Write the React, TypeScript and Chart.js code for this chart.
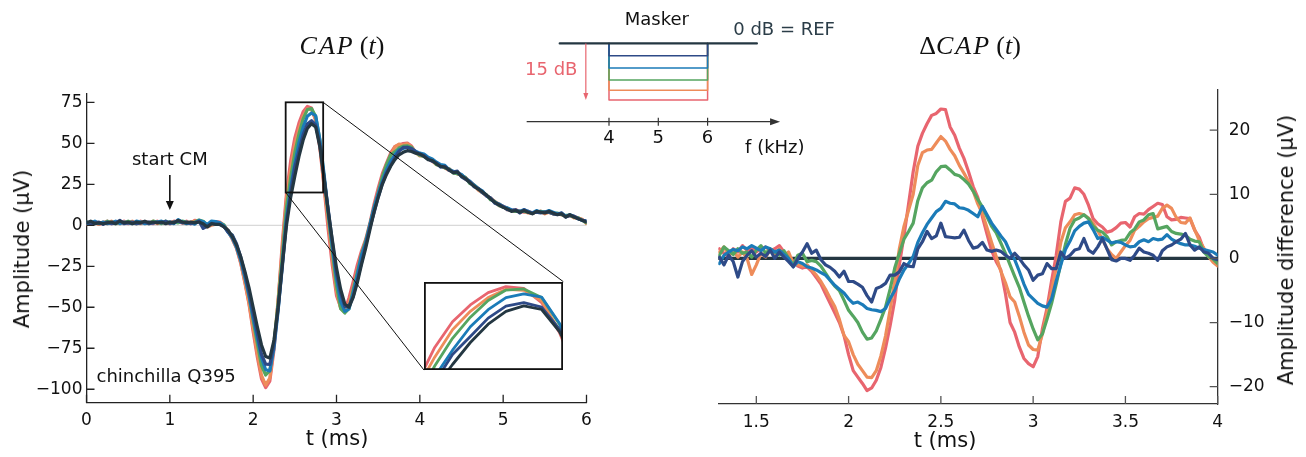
import React, { useEffect, useRef } from 'react';
import { Chart, registerables } from 'chart.js';
Chart.register(...registerables);

// ---------------- colours ----------------
const PINK = '#e8656f';
const ORANGE = '#ee8c5a';
const GREEN = '#55a560';
const BLUE = '#1b7bb8';
const NAVY = '#2e4a87';
const SLATE = '#243742';
const FONT = '"DejaVu Sans", sans-serif';

// ---------------- CAP(t), sampled every 0.05 ms from 0 to 6 ms ----------------
const CAP_STEP_MS = 0.05;
const CAP_REF = [
  1.5, 2.5, 1.0, 1.5, 1.0, 1.5, 2.0, 1.0, 2.5, 1.5, 2.0, 1.0, 2.0, 1.5, 2.5, 1.5, 2.0, 1.5, 2.0, 1.0, 2.0, 1.5, 3.0, 2.0, 1.5, 2.0,
  1.5, 2.0, 1.0, -1.0, 1.0, 0.5, 0.5, -1.0, -3.0, -7.0,
  -12.0, -19.0, -28.0, -38.0, -50.0, -62.0, -73.0, -80.0, -81.0, -70.0,
  -50.0, -24.0, 0.0, 17.0, 30.0, 42.0, 52.0, 59.0, 62.0, 60.0,
  48.0, 29.0, 9.0, -9.0, -26.0, -39.0, -48.0, -50.0, -44.0, -35.0,
  -24.0, -14.0, -3.0, 8.0, 17.0, 25.0, 31.0, 36.0, 40.0, 43.0,
  44.5, 45.5, 45.0, 44.0, 43.5,
  42.0, 40.0, 39.5, 37.5, 36.0, 35.5, 34.0, 32.0, 32.5, 30.0, 28.5, 26.0, 24.0, 22.0, 20.5, 18.5, 16.0, 14.0, 12.5, 11.0,
  10.0, 8.5, 9.0, 8.0, 9.0, 8.0, 7.0, 8.5, 8.0, 7.5, 8.5, 7.5, 6.5, 7.0, 5.0, 6.5, 5.0, 4.0, 3.0, 2.0,
];
const CAP_PINK = [
  0.5, 1.5, 2.0, 0.5, 1.5, 2.5, 1.0, 2.0, 1.5, 2.5, 1.0, 2.0, 1.0, 2.5, 1.5, 2.0, 1.0, 2.5, 1.5, 2.0, 1.5, 2.5, 2.0, 1.5, 2.5, 1.0,
  3.0, 2.2, 2.0, 0.2, 2.0, 2.3, 2.0, 0.0, -3.5, -8.5,
  -14.0, -23.0, -35.0, -48.0, -65.0, -80.5, -93.6, -99.0, -95.0, -76.0,
  -46.0, -10.5, 19.5, 39.3, 53.3, 62.5, 69.2, 72.5, 71.5, 63.8,
  47.5, 23.5, -2.5, -24.6, -42.9, -50.0, -51.5, -44.3, -34.6, -24.2,
  -15.7, -8.6, 1.1, 12.8, 22.6, 31.5, 37.9, 44.1, 48.0, 49.0,
  49.8, 50.2, 48.3, 44.5, 42.7,
  43.0, 40.5, 39.0, 38.0, 36.5, 35.0, 34.5, 32.5, 31.5, 30.5, 29.0, 26.5, 24.5, 22.5, 20.0, 18.0, 16.5, 14.5, 12.0, 11.5,
  10.5, 9.0, 9.5, 8.5, 8.0, 8.5, 7.5, 8.0, 8.5, 8.0, 8.0, 7.0, 7.0, 6.5, 5.5, 6.0, 5.5, 4.5, 3.5, 1.5,
];
const CAP_ORANGE = [
  1.0, 2.0, 1.5, 0.5, 2.0, 1.0, 2.5, 1.5, 1.0, 2.0, 1.5, 2.5, 1.5, 1.0, 2.0, 1.5, 2.5, 1.0, 2.0, 1.5, 1.0, 2.0, 2.5, 1.5, 1.0, 2.0,
  2.5, 2.5, 1.2, -1.0, 0.0, 0.7, 1.0, -0.7, -3.8, -8.2,
  -13.8, -22.6, -34.2, -47.5, -63.0, -78.5, -91.5, -97.5, -93.1, -73.5,
  -45.0, -14.0, 16.5, 34.0, 49.0, 59.0, 66.5, 71.0, 70.5, 64.8,
  48.3, 25.2, 2.2, -20.5, -40.2, -50.8, -53.0, -47.5, -38.3, -28.0,
  -17.7, -9.7, -1.5, 8.0, 19.0, 29.4, 36.7, 42.4, 47.8, 49.5,
  49.0, 49.8, 47.8, 44.3, 42.3,
  42.5, 41.0, 39.0, 37.0, 36.5, 35.0, 33.5, 32.5, 31.5, 30.5, 28.0, 26.5, 24.5, 21.5, 20.0, 18.0, 16.5, 14.5, 13.0, 11.5,
  9.5, 9.0, 8.5, 8.5, 8.5, 7.5, 7.5, 8.0, 8.5, 7.0, 8.0, 7.0, 7.0, 6.5, 5.5, 6.0, 4.5, 4.5, 3.5, 1.0,
];
const CAP_GREEN = [
  2.0, 1.0, 2.0, 1.5, 1.0, 2.5, 1.5, 1.0, 2.0, 1.5, 2.5, 1.5, 1.0, 2.0, 1.5, 1.0, 2.5, 2.0, 1.0, 2.5, 1.5, 2.0, 1.5, 2.5, 2.0, 1.5,
  2.0, 3.2, 2.5, 0.0, 2.3, 1.3, 1.5, 0.2, -4.0, -6.2,
  -12.3, -20.2, -31.4, -43.0, -58.1, -72.0, -85.6, -91.3, -88.6, -71.5,
  -47.0, -18.5, 11.0, 29.2, 44.3, 55.8, 64.9, 70.6, 71.2, 66.5,
  52.0, 29.8, 6.2, -15.8, -37.0, -50.8, -53.5, -50.8, -39.3, -28.7,
  -17.8, -9.6, 0.4, 10.6, 19.9, 29.6, 37.0, 43.0, 44.8, 47.2,
  48.3, 48.5, 47.6, 44.3, 42.7,
  42.0, 40.5, 40.0, 37.0, 36.5, 35.0, 34.5, 32.0, 31.5, 30.5, 29.0, 25.5, 24.5, 22.5, 20.0, 18.5, 15.5, 14.5, 12.0, 11.0,
  10.5, 9.0, 8.5, 8.5, 8.5, 8.0, 7.5, 8.0, 8.5, 8.0, 8.0, 7.0, 7.5, 6.5, 6.0, 6.0, 5.0, 4.5, 3.0, 1.5,
];
const CAP_BLUE = [
  1.0, 1.5, 2.5, 1.0, 2.0, 1.0, 1.5, 2.5, 1.0, 2.0, 1.5, 1.0, 2.5, 2.0, 1.0, 2.0, 1.5, 2.0, 2.5, 1.5, 2.0, 1.0, 3.5, 2.0, 1.0, 1.5,
  0.7, 3.0, 2.2, 0.5, 2.6, 2.3, 1.5, -0.4, -4.3, -7.8,
  -13.5, -21.2, -31.4, -42.8, -56.3, -68.8, -80.8, -88.1, -88.8, -75.0,
  -51.8, -23.7, 4.0, 23.3, 37.8, 50.6, 59.9, 66.5, 68.5, 66.8,
  52.5, 31.6, 8.8, -13.0, -32.3, -46.4, -52.5, -51.0, -41.3, -30.0,
  -18.3, -10.9, -0.1, 10.6, 19.1, 26.9, 33.9, 39.1, 43.0, 46.0,
  46.8, 47.6, 46.6, 45.2, 44.0,
  43.5, 41.5, 40.5, 38.5, 37.0, 36.5, 34.0, 33.0, 32.0, 31.0, 28.5, 27.0, 24.5, 22.5, 21.0, 18.0, 16.5, 14.0, 13.0, 11.5,
  10.5, 9.5, 9.0, 8.5, 9.5, 8.5, 7.5, 9.0, 8.0, 8.0, 9.0, 8.0, 7.0, 7.5, 5.5, 6.5, 5.5, 4.0, 3.0, 2.5,
];
const CAP_NAVY = [
  2.0, 1.0, 1.5, 2.0, 0.5, 2.0, 1.0, 1.5, 3.0, 1.0, 1.5, 2.0, 1.0, 1.5, 2.0, 1.0, 1.5, 2.0, 1.5, 2.5, 1.0, 2.0, 2.5, 1.5, 2.0, 1.0,
  1.7, 2.5, -1.9, -0.5, 1.2, 0.8, 0.5, -0.8, -4.3, -6.0,
  -11.2, -19.2, -29.4, -40.9, -53.6, -66.0, -78.8, -84.7, -84.9, -72.6,
  -50.8, -25.3, 2.6, 20.1, 35.5, 45.3, 55.3, 61.8, 63.8, 61.3,
  49.3, 29.5, 9.8, -10.0, -29.4, -41.4, -49.6, -49.0, -43.5, -33.5,
  -22.7, -12.2, -1.5, 7.6, 17.0, 25.5, 32.0, 36.5, 41.2, 45.1,
  47.5, 47.6, 46.8, 44.8, 43.3,
  42.5, 40.5, 39.0, 38.0, 35.5, 36.0, 33.5, 32.5, 33.0, 29.5, 28.0, 26.5, 23.5, 22.5, 20.0, 18.0, 16.5, 13.5, 12.5, 11.5,
  9.5, 9.0, 9.5, 7.5, 9.5, 8.0, 7.5, 8.0, 7.5, 8.0, 8.0, 7.0, 6.5, 7.5, 5.0, 6.0, 5.5, 4.0, 3.0, 2.5,
];
const CAP_X_TICKS = [0, 1, 2, 3, 4, 5, 6];
const CAP_Y_TICKS = [-100, -75, -50, -25, 0, 25, 50, 75];

// ---------------- ΔCAP(t), sampled every 0.025 ms from 1.3 to 4 ms ----------------
const DCAP_START_MS = 1.3;
const DCAP_STEP_MS = 0.025;
const DCAP_PINK = [
  1.5, 0.8, 0.2, 1.5, 1.0, 2.0, 1.2, 1.6, 1.0, 1.5,
  1.8, 1.2, 1.5, 2.0, 1.0, 0.5, -0.5, -1.2, -1.5, -1.3,
  -2.0, -3.0, -4.0, -5.5, -7.0, -8.5, -10.0, -12.0, -15.0, -17.5,
  -18.5, -19.5, -20.6, -20.2, -19.0, -17.0, -14.0, -10.5, -6.5, -1.0,
  3.5, 8.5, 13.5, 17.5, 19.5, 21.0, 22.3, 22.6, 23.3, 23.2,
  20.5, 19.2, 17.2, 15.6, 13.5, 11.2, 9.5, 6.5, 3.8, 1.2,
  -0.5, -1.8, -5.5, -10.0, -11.5, -13.8, -15.6, -16.4, -16.9, -15.3,
  -11.0, -7.8, -3.5, 0.5, 5.7, 8.9, 9.4, 11.0, 10.8, 10.0,
  8.3, 6.2, 5.4, 4.9, 4.1, 4.3, 4.8, 5.5, 5.6, 4.9,
  6.5, 7.0, 6.9, 7.6, 8.1, 8.6, 8.4, 6.5, 6.0, 6.1,
  6.4, 6.3, 6.2, 4.4, 3.3, 1.3, 0.5, -0.2, -0.8,
];
const DCAP_ORANGE = [
  1.0, 1.8, 0.5, 1.2, 0.2, 1.0, 0.0, -2.5, -1.0, 0.8,
  0.2, 1.3, 0.5, 1.5, 0.3, 1.0, -0.8, -1.0, -1.2, -1.0,
  -1.8, -2.6, -3.6, -4.8, -6.2, -7.5, -9.5, -12.0, -13.0, -15.0,
  -16.5, -17.5, -18.5, -18.6, -17.5, -15.2, -12.1, -8.0, -3.5, 1.5,
  5.0, 7.5, 10.0, 14.5, 16.5, 16.9, 17.0, 18.0, 19.0, 18.3,
  17.0, 16.0, 14.5, 13.3, 12.0, 10.5, 8.5, 7.0, 4.8, 2.5,
  0.3, -2.0, -3.8, -6.0, -6.8, -9.0, -11.5, -13.5, -14.2, -14.3,
  -11.8, -8.5, -5.0, -1.5, 2.5, 4.8, 5.7, 6.8, 7.0, 6.8,
  6.3, 5.5, 4.3, 3.0, 1.5, 0.6, 0.0, 1.0, 2.0, 2.8,
  4.4, 5.0, 5.7, 6.2, 6.4, 6.6, 7.8, 8.3, 7.8, 6.4,
  5.6, 5.5, 6.3, 4.5, 2.8, 1.6, 0.3, -0.6, -1.2,
];
const DCAP_GREEN = [
  0.5, 1.8, 1.2, 0.6, 1.5, 0.8, 1.0, 0.2, 1.3, 2.0,
  0.8, 1.5, 1.0, 0.5, 1.2, 0.0, -1.0, 0.5, 0.8, -0.5,
  -0.3, -0.5, -1.2, -2.3, -3.4, -4.3, -5.0, -6.5, -8.1, -9.0,
  -10.0, -11.5, -12.6, -12.4, -11.3, -9.5, -7.6, -4.8, -1.5, 0.8,
  3.0, 4.2, 5.5, 9.0, 11.0, 11.8, 12.2, 13.5, 14.3, 14.4,
  13.8, 13.1, 12.9, 12.3, 11.6, 10.5, 9.2, 8.0, 6.5, 5.0,
  4.0, 2.4, 0.8, -1.0, -2.8, -4.5, -6.8, -9.0, -11.0, -12.7,
  -11.8, -9.5, -7.0, -4.0, -0.8, 2.2, 4.7, 6.0, 6.3, 6.8,
  6.2, 5.0, 4.4, 4.1, 3.4, 2.1, 2.6, 2.8, 2.9, 4.0,
  4.6, 5.7, 6.0, 6.8, 7.0, 4.6, 4.8, 5.0, 4.2, 3.9,
  3.8, 3.6, 3.0, 2.7, 2.6, 1.0, 0.3, -0.1, -0.8,
];
const DCAP_BLUE = [
  -0.8, 0.5, 1.0, 1.4, 1.2, 1.8, 1.5, 2.0, 1.6, 1.2,
  1.8, 1.5, 1.0, 1.3, 0.6, 0.0, -1.3, -0.5, -0.8, -1.3,
  -1.5, -1.8, -2.2, -2.6, -3.4, -4.2, -4.8, -5.4, -6.3, -7.0,
  -6.8, -7.2, -7.8, -8.0, -8.1, -8.3, -7.8, -6.3, -5.0, -3.2,
  -1.8, -0.8, 0.3, 2.5, 4.0, 5.3, 6.3, 7.3, 7.8, 8.9,
  8.6, 8.5, 7.9, 7.8, 7.5, 7.0, 6.5, 8.1, 6.8, 5.5,
  4.5, 3.5, 2.6, 1.0, -0.2, -2.0, -4.0, -5.6, -6.3, -7.0,
  -7.4, -7.6, -6.3, -3.5, -1.0, 1.4, 2.7, 4.3, 5.0, 5.5,
  5.7, 4.5, 3.1, 3.3, 2.9, 2.4, 2.6, 2.5, 2.1, 1.8,
  1.9, 2.6, 2.9, 2.6, 3.1, 2.9, 3.0, 3.7, 3.0, 2.6,
  2.3, 2.1, 2.1, 1.9, 1.6, 1.4, 1.2, 1.0, 0.5,
];
const DCAP_NAVY = [
  0.2, -1.0, 0.5, -0.5, -2.9, -0.5, 0.5, 1.2, 0.2, 0.8,
  0.3, 1.3, 0.0, 1.0, 0.2, -0.5, -1.3, 0.0, 1.0, 2.3,
  0.8, 1.3, -0.2, -1.0, -1.4, -2.0, -2.9, -2.0, -3.6, -3.6,
  -4.0, -4.5, -5.8, -6.8, -4.7, -4.4, -3.9, -2.6, -2.6, -2.1,
  -0.8, -1.2, -1.3, 1.5, 2.6, 4.2, 3.1, 3.5, 5.5, 3.4,
  3.3, 3.2, 3.3, 4.4, 2.8, 1.6, 1.8, 2.5, 1.3, 1.1,
  1.3, 1.1, 0.5, 0.0, 0.8, 0.0, -1.0, -1.8, -3.4, -2.6,
  -2.4, -0.8, -1.6, -1.6, 1.0, 0.0, 0.5, 1.3, 1.5, 3.1,
  1.3, 0.8, 1.8, 3.1, 1.5, -0.2, -0.4, 0.0, 0.0, -0.3,
  0.5, 1.6, 1.0, 0.8, 0.5, -0.3, 1.2, 1.8, 2.1, 2.6,
  3.0, 3.9, 2.1, 1.3, 1.8, 1.0, 0.8, 0.0, -0.2,
];
const DCAP_REF_LINE = [{ x: 1.294, y: 0 }, { x: 4.0, y: 0 }];
const DCAP_X_TICKS = [1.5, 2, 2.5, 3, 3.5, 4];
const DCAP_Y_TICKS = [-20, -10, 0, 10, 20];

// ---------------- masker schematic ----------------
const NOTCH_KHZ = [4, 6];
const REF_BAND_KHZ = [3, 7];
const MASKER_ATTEN_DB = [-15, -12.4, -9.7, -6.5, -3.3]; // pink, orange, green, blue, navy
const MASKER_COLORS = [PINK, ORANGE, GREEN, BLUE, NAVY];
const FREQ_TICKS = [4, 5, 6];

// zoom box / inset ranges (data coords of the left panel)
const ZOOM_BOX = { t0: 2.39, t1: 2.84, v0: 20, v1: 75 };
const INSET_AT = { t0: 4.05, t1: 5.722, v0: -88.3, v1: -34.4 };
const INSET_RANGE = { t0: 2.42, t1: 2.81, v0: 27, v1: 75 };

const minus = (v: number) => (v < 0 ? '\u2212' + Math.abs(v) : String(v));

function toPts(values: number[], start: number, step: number) {
  return values.map((v, i) => ({ x: +(start + i * step).toFixed(4), y: v }));
}

const CAP_SERIES: [number[], string][] = [
  [CAP_PINK, PINK], [CAP_ORANGE, ORANGE], [CAP_GREEN, GREEN], [CAP_BLUE, BLUE], [CAP_NAVY, NAVY], [CAP_REF, SLATE],
];
const DCAP_SERIES: [number[], string][] = [
  [DCAP_PINK, PINK], [DCAP_ORANGE, ORANGE], [DCAP_GREEN, GREEN], [DCAP_BLUE, BLUE], [DCAP_NAVY, NAVY],
];

function withOrder(ds: any[]) {
  return ds.map((d, i) => ({ ...d, order: ds.length - i }));
}

function capDatasets(width: number) {
  return CAP_SERIES.map(([vals, c]) => ({
    data: toPts(vals, 0, CAP_STEP_MS), borderColor: c, borderWidth: width, showLine: true, pointRadius: 0,
  }));
}

function inwardTicks(chart: any, yRight: boolean, color: string) {
  const { ctx, chartArea: a, scales } = chart;
  ctx.save();
  ctx.strokeStyle = color;
  ctx.lineWidth = 1.3;
  ctx.beginPath();
  scales.x.ticks.forEach((t: any) => {
    const px = scales.x.getPixelForValue(t.value);
    ctx.moveTo(px, a.bottom);
    ctx.lineTo(px, a.bottom - 8);
  });
  scales.y.ticks.forEach((t: any) => {
    const py = scales.y.getPixelForValue(t.value);
    const x0 = yRight ? a.right : a.left;
    ctx.moveTo(x0, py);
    ctx.lineTo(x0 + (yRight ? -8 : 8), py);
  });
  ctx.stroke();
  ctx.restore();
}

function arrowDown(ctx: any, x: number, y0: number, y1: number, color: string, lw: number, hl: number, hw: number) {
  ctx.save();
  ctx.strokeStyle = color;
  ctx.fillStyle = color;
  ctx.lineWidth = lw;
  ctx.beginPath();
  ctx.moveTo(x, y0);
  ctx.lineTo(x, y1 - hl);
  ctx.stroke();
  ctx.beginPath();
  ctx.moveTo(x - hw, y1 - hl);
  ctx.lineTo(x + hw, y1 - hl);
  ctx.lineTo(x, y1);
  ctx.closePath();
  ctx.fill();
  ctx.restore();
}

const leftDecor = {
  id: 'leftDecor',
  afterDraw(chart: any) {
    const { ctx, scales } = chart;
    const X = (t: number) => scales.x.getPixelForValue(t);
    const Y = (v: number) => scales.y.getPixelForValue(v);
    inwardTicks(chart, false, '#222');
    ctx.save();
    ctx.strokeStyle = '#111';
    ctx.lineWidth = 1.8;
    ctx.strokeRect(X(ZOOM_BOX.t0), Y(ZOOM_BOX.v1), X(ZOOM_BOX.t1) - X(ZOOM_BOX.t0), Y(ZOOM_BOX.v0) - Y(ZOOM_BOX.v1));
    ctx.lineWidth = 1;
    ctx.beginPath();
    ctx.moveTo(X(ZOOM_BOX.t1), Y(ZOOM_BOX.v1));
    ctx.lineTo(X(INSET_AT.t1), Y(INSET_AT.v1));
    ctx.moveTo(X(ZOOM_BOX.t0), Y(ZOOM_BOX.v0));
    ctx.lineTo(X(INSET_AT.t0), Y(INSET_AT.v0));
    ctx.stroke();
    ctx.fillStyle = '#111';
    ctx.font = `18px ${FONT}`;
    ctx.textBaseline = 'middle';
    ctx.textAlign = 'center';
    ctx.fillText('start CM', X(1.0), Y(39.8));
    ctx.textAlign = 'left';
    ctx.fillText('chinchilla Q395', X(0.12), Y(-93.0));
    ctx.restore();
    arrowDown(ctx, X(1.0), Y(30.7), Y(9.3), '#111', 1.6, 9, 4);
  },
};

const insetBorder = {
  id: 'insetBorder',
  afterDraw(chart: any) {
    const { ctx, chartArea: a } = chart;
    ctx.save();
    ctx.strokeStyle = '#111';
    ctx.lineWidth = 1.8;
    ctx.strokeRect(a.left + 0.9, a.top + 0.9, a.right - a.left - 1.8, a.bottom - a.top - 1.8);
    ctx.restore();
  },
};

const rightDecor = {
  id: 'rightDecor',
  afterDraw(chart: any) {
    inwardTicks(chart, true, '#555');
  },
};

const schematicDecor = {
  id: 'schematicDecor',
  afterDatasetsDraw(chart: any) {
    const { ctx, scales } = chart;
    const X = (f: number) => scales.x.getPixelForValue(f);
    const Y = (d: number) => scales.y.getPixelForValue(d);
    ctx.save();
    const ay = Y(-20.7);
    ctx.strokeStyle = '#333';
    ctx.fillStyle = '#333';
    ctx.lineWidth = 1.2;
    ctx.beginPath();
    ctx.moveTo(X(2.33), ay);
    ctx.lineTo(X(7.3), ay);
    ctx.stroke();
    ctx.beginPath();
    ctx.moveTo(X(7.47), ay);
    ctx.lineTo(X(7.47) - 10, ay - 3.5);
    ctx.lineTo(X(7.47) - 10, ay + 3.5);
    ctx.closePath();
    ctx.fill();
    ctx.beginPath();
    FREQ_TICKS.forEach((f) => {
      ctx.moveTo(X(f), Y(-19.7));
      ctx.lineTo(X(f), Y(-21.8));
    });
    ctx.stroke();
    ctx.fillStyle = '#111';
    ctx.font = `18px ${FONT}`;
    ctx.textBaseline = 'middle';
    ctx.textAlign = 'center';
    FREQ_TICKS.forEach((f) => ctx.fillText(String(f), X(f), Y(-25.1)));
    ctx.fillText('Masker', X(4.97), Y(6.1));
    ctx.textAlign = 'left';
    ctx.fillText('f (kHz)', X(6.76), Y(-27.7));
    ctx.fillStyle = '#2b3d48';
    ctx.fillText('0 dB = REF', X(6.52), Y(3.55));
    ctx.fillStyle = PINK;
    ctx.textAlign = 'right';
    ctx.fillText('15 dB', X(3.36), Y(-7.04));
    ctx.restore();
    arrowDown(ctx, X(3.53), Y(0), Y(-15), PINK, 1.2, 7, 2.5);
  },
};

export default function App() {
  const leftRef = useRef<HTMLCanvasElement>(null);
  const rightRef = useRef<HTMLCanvasElement>(null);
  const insetRef = useRef<HTMLCanvasElement>(null);
  const schemRef = useRef<HTMLCanvasElement>(null);

  useEffect(() => {
    const tickFont = { family: FONT, size: 17 };
    const common = {
      animation: false as const,
      responsive: false,
      plugins: { legend: { display: false }, tooltip: { enabled: false }, title: { display: false } },
      elements: { point: { radius: 0 }, line: { tension: 0, borderJoinStyle: 'round' as const, borderCapStyle: 'round' as const } },
    };

    // ---- left: CAP(t)
    const leftDs = withOrder([
      { data: [{ x: 0, y: 0 }, { x: 6, y: 0 }], borderColor: '#cfcfcf', borderWidth: 1, showLine: true, pointRadius: 0 },
      ...capDatasets(3.2),
    ]);
    const left = new Chart(leftRef.current!, {
      type: 'scatter',
      data: { datasets: leftDs as any },
      options: {
        ...common,
        layout: { padding: { left: 0, right: 63.5, top: 93.3, bottom: 0 } },
        scales: {
          x: {
            type: 'linear', min: 0, max: 6,
            afterFit: (s: any) => { s.height = 54.3; },
            afterBuildTicks: (s: any) => { s.ticks = CAP_X_TICKS.map((v) => ({ value: v })); },
            grid: { display: false, drawTicks: false },
            border: { display: true, color: '#222', width: 1.3 },
            ticks: { font: tickFont, color: '#111', padding: 8, autoSkip: false, maxRotation: 0, callback: (v: any) => minus(+v) },
          },
          y: {
            type: 'linear', min: -108.2, max: 80.5,
            afterFit: (s: any) => { s.width = 86.5; },
            afterBuildTicks: (s: any) => { s.ticks = CAP_Y_TICKS.map((v) => ({ value: v })); },
            grid: { display: false, drawTicks: false },
            border: { display: true, color: '#222', width: 1.3 },
            ticks: { font: tickFont, color: '#111', padding: 4, autoSkip: false, callback: (v: any) => minus(+v) },
          },
        },
      } as any,
      plugins: [leftDecor],
    });

    // ---- inset (positioned from the left panel's scales)
    const sx = left.scales.x, sy = left.scales.y;
    const ix0 = sx.getPixelForValue(INSET_AT.t0), ix1 = sx.getPixelForValue(INSET_AT.t1);
    const iy0 = sy.getPixelForValue(INSET_AT.v1), iy1 = sy.getPixelForValue(INSET_AT.v0);
    const ic = insetRef.current!;
    ic.width = Math.round(ix1 - ix0);
    ic.height = Math.round(iy1 - iy0);
    ic.style.left = `${Math.round(ix0)}px`;
    ic.style.top = `${Math.round(iy0)}px`;
    ic.style.width = `${ic.width}px`;
    ic.style.height = `${ic.height}px`;
    const inset = new Chart(ic, {
      type: 'scatter',
      data: { datasets: withOrder(capDatasets(2.8)) as any },
      options: {
        ...common,
        layout: { padding: 0 },
        scales: {
          x: { type: 'linear', display: false, min: INSET_RANGE.t0, max: INSET_RANGE.t1 },
          y: { type: 'linear', display: false, min: INSET_RANGE.v0, max: INSET_RANGE.v1 },
        },
      } as any,
      plugins: [insetBorder],
    });

    // ---- right: ΔCAP(t)
    const rightDs = withOrder([
      { data: DCAP_REF_LINE, borderColor: SLATE, borderWidth: 3.4, showLine: true, pointRadius: 0 },
      ...DCAP_SERIES.map(([vals, c]) => ({
        data: toPts(vals, DCAP_START_MS, DCAP_STEP_MS), borderColor: c, borderWidth: 3.2, showLine: true, pointRadius: 0,
      })),
    ]);
    const right = new Chart(rightRef.current!, {
      type: 'scatter',
      data: { datasets: rightDs as any },
      options: {
        ...common,
        layout: { padding: { left: 68.3, right: 0, top: 90, bottom: 0 } },
        scales: {
          x: {
            type: 'linear', min: 1.294, max: 4,
            afterFit: (s: any) => { s.height = 53; },
            afterBuildTicks: (s: any) => { s.ticks = DCAP_X_TICKS.map((v) => ({ value: v })); },
            grid: { display: false, drawTicks: false },
            border: { display: true, color: '#333', width: 1.3 },
            ticks: { font: tickFont, color: '#111', padding: 8, autoSkip: false, maxRotation: 0, callback: (v: any) => String(v) },
          },
          y: {
            type: 'linear', position: 'right', min: -22.7, max: 26.26,
            afterFit: (s: any) => { s.width = 88.3; },
            afterBuildTicks: (s: any) => { s.ticks = DCAP_Y_TICKS.map((v) => ({ value: v })); },
            grid: { display: false, drawTicks: false },
            border: { display: true, color: '#333', width: 1.3 },
            ticks: { font: tickFont, color: '#111', padding: 11, autoSkip: false, callback: (v: any) => minus(+v) },
          },
        },
      } as any,
      plugins: [rightDecor],
    });

    // ---- masker schematic
    const schemDs = withOrder([
      ...MASKER_ATTEN_DB.map((d, i) => ({
        data: [
          { x: NOTCH_KHZ[0], y: 0 }, { x: NOTCH_KHZ[0], y: d }, { x: NOTCH_KHZ[1], y: d }, { x: NOTCH_KHZ[1], y: 0 },
        ],
        borderColor: MASKER_COLORS[i], borderWidth: 1.5, showLine: true, pointRadius: 0, clip: false,
      })),
      {
        data: [{ x: REF_BAND_KHZ[0], y: 0 }, { x: REF_BAND_KHZ[1], y: 0 }],
        borderColor: SLATE, borderWidth: 2.2, showLine: true, pointRadius: 0, clip: false,
      },
    ]);
    const schem = new Chart(schemRef.current!, {
      type: 'scatter',
      data: { datasets: schemDs as any },
      options: {
        ...common,
        layout: { padding: { left: 10.4, top: 20.7, right: 19.15, bottom: 27.1 } },
        scales: {
          x: { type: 'linear', display: false, min: 2, max: 8.5 },
          y: { type: 'linear', display: false, min: -25, max: 6 },
        },
      } as any,
      plugins: [schematicDecor],
    });

    return () => {
      left.destroy();
      inset.destroy();
      right.destroy();
      schem.destroy();
    };
  }, []);

  const abs = (l: number, t: number, extra: any = {}) => ({
    position: 'absolute' as const, left: l, top: t, transform: 'translate(-50%, -50%)', whiteSpace: 'nowrap' as const, ...extra,
  });
  const mathFont = { fontFamily: '"Liberation Serif", serif', fontSize: 26, color: '#111' };

  return (
    <div style={{ position: 'absolute', left: 0, top: 0, width: 1306, height: 457, background: '#fff', overflow: 'hidden', fontFamily: FONT }}>
      <canvas ref={leftRef} width={650} height={457} style={{ position: 'absolute', left: 0, top: 0, width: 650, height: 457 }} />
      <canvas ref={rightRef} width={656} height={457} style={{ position: 'absolute', left: 650, top: 0, width: 656, height: 457 }} />
      <canvas ref={insetRef} style={{ position: 'absolute', background: '#fff' }} />
      <canvas ref={schemRef} width={350} height={165} style={{ position: 'absolute', left: 500, top: 0, width: 350, height: 165 }} />
      <div style={abs(342, 46, mathFont)}>
        <i style={{ letterSpacing: 2 }}>CAP</i>&thinsp;(<i>t</i>)
      </div>
      <div style={abs(970, 46, mathFont)}>
        Δ<i style={{ letterSpacing: 2 }}>CAP</i>&thinsp;(<i>t</i>)
      </div>
      <div style={abs(21.5, 249, { fontSize: 21, color: '#111', transform: 'translate(-50%, -50%) rotate(-90deg)' })}>Amplitude (µV)</div>
      <div style={abs(337, 438, { fontSize: 21, color: '#111' })}>t (ms)</div>
      <div style={abs(945, 440, { fontSize: 21, color: '#111' })}>t (ms)</div>
      <div style={abs(1286, 250, { fontSize: 21, color: '#111', transform: 'translate(-50%, -50%) rotate(-90deg)' })}>Amplitude difference (µV)</div>
    </div>
  );
}
